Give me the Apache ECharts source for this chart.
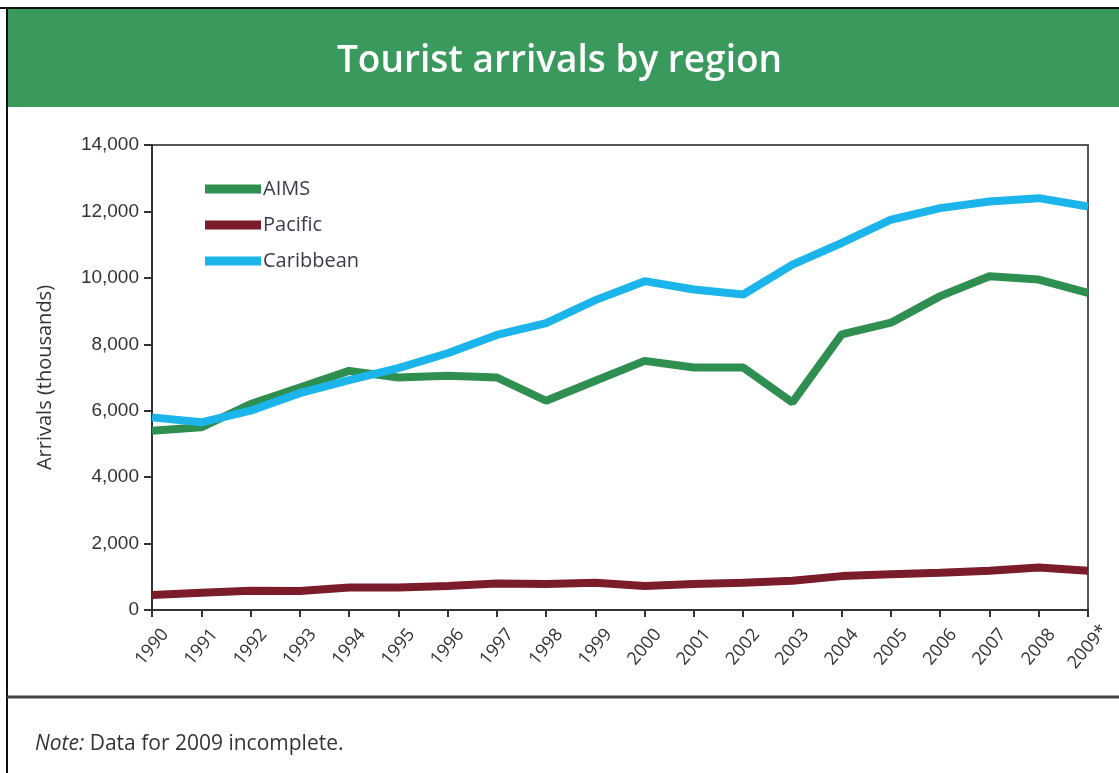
<!DOCTYPE html>
<html>
<head>
<meta charset="utf-8">
<script src="https://cdn.jsdelivr.net/npm/echarts@6/dist/echarts.min.js"></script>
<style>
html,body{margin:0;padding:0;background:#fff;}
#chart{width:1119px;height:773px;}
</style>
</head>
<body>
<div id="chart"></div>
<script>
const years = ['1990','1991','1992','1993','1994','1995','1996','1997','1998','1999','2000','2001','2002','2003','2004','2005','2006','2007','2008','2009*'];
const aims = [5400,5500,6200,6700,7200,7000,7050,7000,6300,6900,7500,7300,7300,6250,8300,8650,9450,10050,9950,9550];
const pacific = [450,520,580,570,680,680,720,800,780,820,720,780,820,880,1020,1080,1120,1180,1280,1180];
const caribbean = [5800,5650,6000,6530,6920,7280,7730,8280,8640,9330,9900,9650,9500,10400,11050,11750,12100,12300,12400,12150];
const yTicks = {min:0, max:14000, interval:2000};

const FONT = '"Open Sans", Lato, sans-serif';
const chart = echarts.init(document.getElementById('chart'));
chart.setOption({
  animation:false,
  backgroundColor:'#fff',
  title:[
    {text:'Tourist arrivals by region', left:'center', top:38,
     textStyle:{color:'#fff', fontSize:37, fontWeight:600, fontFamily:FONT}},
    {text:'{i|Note:} Data for 2009 incomplete.', left:30, top:729,
     textStyle:{color:'#333', fontSize:21, fontWeight:'normal', fontFamily:FONT,
       rich:{i:{fontStyle:'italic', fontSize:21, color:'#333', fontFamily:FONT}}}}
  ],
  graphic:[
    {type:'rect', z:-1, shape:{x:8,y:9,width:1111,height:98}, style:{fill:'#3a9a5e'}},
    {type:'line', shape:{x1:0,y1:8,x2:1119,y2:8}, style:{stroke:'#111',lineWidth:2}},
    {type:'line', shape:{x1:7,y1:7,x2:7,y2:773}, style:{stroke:'#111',lineWidth:2}},
    {type:'line', shape:{x1:7,y1:697,x2:1119,y2:697}, style:{stroke:'#444',lineWidth:3}}
  ],
  legend:{
    orient:'vertical', left:200, top:174, itemWidth:56, itemHeight:9, itemGap:16,
    icon:'rect',
    textStyle:{color:'#3b3b4b', fontSize:20, fontFamily:FONT, padding:[0,0,0,-3]},
    data:['AIMS','Pacific','Caribbean']
  },
  grid:{left:152, top:145, right:31, bottom:163, show:true, borderColor:'#555', borderWidth:2},
  xAxis:{
    type:'category', data:years, boundaryGap:false,
    axisLine:{lineStyle:{color:'#333', width:2}},
    axisTick:{length:7, lineStyle:{color:'#333', width:2}},
    axisLabel:{rotate:50, interval:0, margin:37, align:'center', verticalAlign:'middle',
      color:'#333', fontSize:18, fontFamily:FONT}
  },
  yAxis:{
    type:'value', min:yTicks.min, max:yTicks.max, interval:yTicks.interval,
    name:'Arrivals (thousands)', nameLocation:'middle', nameGap:97, nameRotate:90,
    nameTextStyle:{color:'#333', fontSize:20, fontFamily:FONT},
    splitLine:{show:false},
    axisLine:{show:true, lineStyle:{color:'#333', width:2}},
    axisTick:{show:true, length:8, lineStyle:{color:'#333', width:2}},
    axisLabel:{color:'#333', fontSize:19, fontFamily:'"Liberation Sans", Arial, sans-serif', margin:13,
      formatter:v=>v.toLocaleString('en-US')}
  },
  series:[
    {name:'AIMS', type:'line', data:aims, showSymbol:false, color:'#2f8f50', lineStyle:{width:8, color:'#2f8f50'}, z:3},
    {name:'Pacific', type:'line', data:pacific, showSymbol:false, color:'#7b1c2b', lineStyle:{width:8, color:'#7b1c2b'}, z:2},
    {name:'Caribbean', type:'line', data:caribbean, showSymbol:false, color:'#1bb5ec', lineStyle:{width:8, color:'#1bb5ec'}, z:4}
  ]
});
</script>
</body>
</html>
